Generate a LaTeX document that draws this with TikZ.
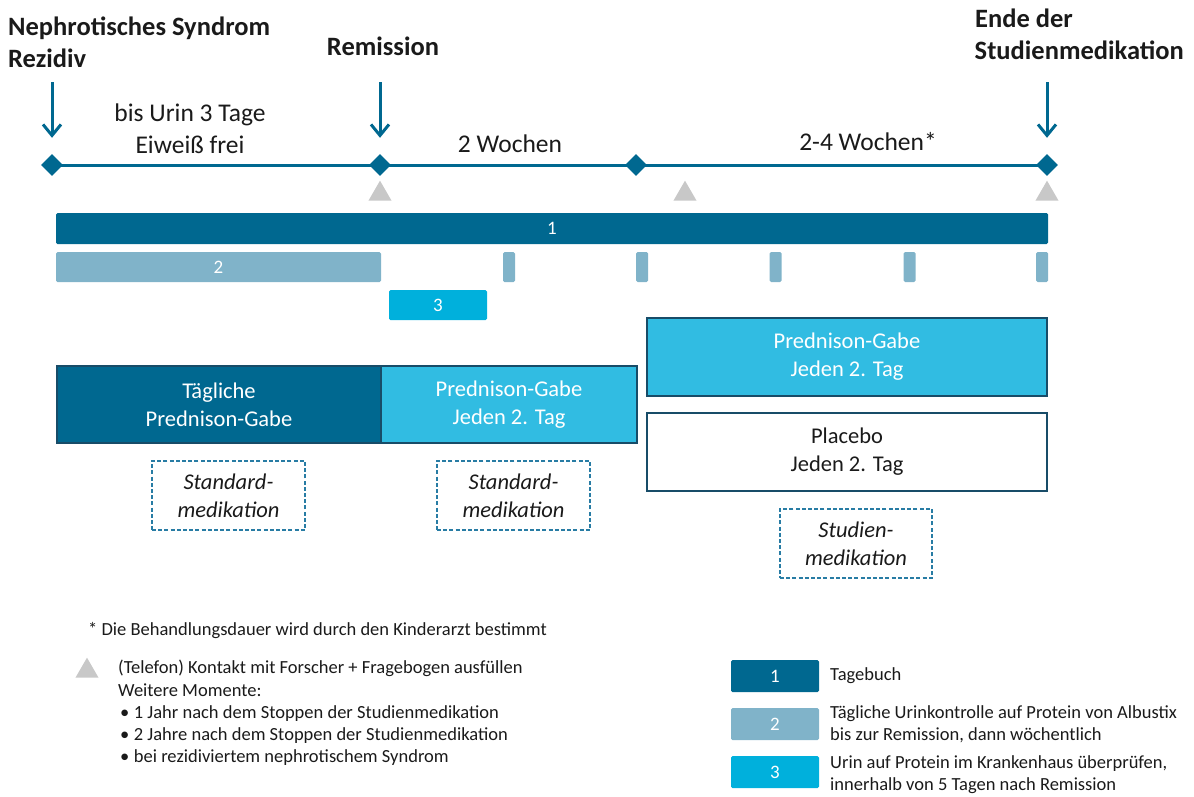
\documentclass[tikz,border=0pt]{standalone}
\usepackage{fontspec}
\setmainfont{Carlito}
\usetikzlibrary{shapes.geometric,arrows.meta}
\definecolor{dblue}{RGB}{0,104,144}
\definecolor{gblue}{RGB}{128,179,201}
\definecolor{cblue}{RGB}{0,176,220}
\definecolor{lcyan}{RGB}{49,188,226}
\definecolor{navy}{RGB}{24,76,104}
\definecolor{dashc}{RGB}{40,124,164}
\definecolor{tgray}{RGB}{200,200,200}
\definecolor{txt}{RGB}{26,26,26}
\newcommand\fsz[2]{\fontsize{#1}{#2}\selectfont}
\newcommand\bul{\hspace*{2pt}•\hspace{4.5pt}}
\tikzset{
  dia/.style={diamond,fill=dblue,inner sep=0pt,minimum size=22pt},
  tri/.style={isosceles triangle,isosceles triangle apex angle=60,shape border rotate=90,fill=tgray,inner sep=0pt,minimum width=23pt,minimum height=20pt},
  darr/.style={draw=dblue,line width=3pt,-{Straight Barb[length=11pt,width=18pt,line width=3pt]}},
  ttl/.style={font=\bfseries\fsz{26.5}{32},text=txt,inner sep=0pt},
  lbl/.style={font=\fsz{25.5}{32},text=txt,align=center,inner sep=0pt},
  bar/.style={inner sep=0pt,text=white,font=\fsz{19}{20},rounded corners=1.5pt},
  bigbox/.style={draw=navy,line width=2.6pt,inner sep=0pt,align=center,font=\fsz{22.5}{28}},
  dbox/.style={draw=dashc,dash pattern=on 4pt off 2.2pt,line width=1.2pt,inner sep=0pt,align=center,font=\itshape\fsz{22.5}{28},text=txt},
  leg/.style={font=\fsz{18.5}{22.3},text=txt,inner sep=0pt,align=left},
}
\begin{document}
\begin{tikzpicture}[x=1pt,y=-1pt]
\useasboundingbox (0,0) rectangle (1194,796);
% titles
\node[ttl,anchor=base west] (t1) at (8,35) {Nephrotisches Syndrom};
\node[ttl,anchor=base west] (t2) at (8,67) {Rezidiv};
\node[ttl,anchor=base] (t3) at (383,55) {Remission};
\node[ttl,anchor=base west] (t4) at (975,27) {Ende der};
\node[ttl,anchor=base east] (t5) at (1184,59) {Studienmedikation};
% timeline
\node[dia] (d1) at (52,165) {};
\node[dia] (d2) at (380,165) {};
\node[dia] (d3) at (636,165) {};
\node[dia] (d4) at (1047,165) {};
\draw[dblue,line width=3pt] (d1.center) -- (d2.center) -- (d3.center) -- (d4.center);
\coordinate (a1) at (52,82);
\coordinate (a2) at (380,82);
\coordinate (a4) at (1047,82);
\draw[darr,shorten >=16pt] (a1) -- (d1.north);
\draw[darr,shorten >=16pt] (a2) -- (d2.north);
\draw[darr,shorten >=16pt] (a4) -- (d4.north);
\node[lbl] (l1) at (190,129) {bis Urin 3 Tage\\Eiweiß frei};
\node[lbl] (l2) at (510,144) {2 Wochen};
\node[lbl] (l3) at (868,142) {2-4 Wochen*};
% triangles
\node[tri] (g1) at (380,194) {};
\node[tri] (g2) at (685,194) {};
\node[tri] (g3) at (1047,194) {};
% bars
\node[bar,fill=dblue,minimum width=992pt,minimum height=31pt] (b1) at (552,228.5) {1};
\node[bar,fill=gblue,minimum width=325pt,minimum height=30pt] (b2) at (218.5,267) {2};
\foreach \x [count=\i] in {509,642,775.5,909.5,1042}
  \node[bar,fill=gblue,minimum width=12pt,minimum height=30pt] (tk\i) at (\x,267) {};
\node[bar,fill=cblue,minimum width=98pt,minimum height=30pt] (b3) at (438,305) {3};
% medication boxes
\node[bigbox,fill=dblue,text=white,minimum width=324pt,minimum height=77pt] (m1) at (219,404.5) {Tägliche\\Prednison-Gabe};
\node[bigbox,fill=lcyan,text=white,minimum width=256pt,minimum height=77pt] (m2) at (509,404.5) {Prednison-Gabe\\Jeden 2. Tag};
\node[bigbox,fill=lcyan,text=white,minimum width=400pt,minimum height=78pt] (m3) at (847,357) {Prednison-Gabe\\Jeden 2. Tag};
\node[bigbox,fill=white,text=txt,minimum width=400pt,minimum height=78pt] (m4) at (847,452) {Placebo\\Jeden 2. Tag};
\node[dbox,minimum width=153pt,minimum height=69pt] (s1) at (228.5,495.5) {Standard-\\medikation};
\node[dbox,minimum width=153pt,minimum height=69pt] (s2) at (513.5,495.5) {Standard-\\medikation};
\node[dbox,minimum width=152pt,minimum height=69pt] (s3) at (856,543.5) {Studien-\\medikation};
% footnotes
\node[leg,anchor=base west] (f1) at (88,635) {* Die Behandlungsdauer wird durch den Kinderarzt bestimmt};
\node[tri] (gl) at (87,671) {};
\node[leg,anchor=north west] (f2) at (118,660) {(Telefon) Kontakt mit Forscher + Fragebogen ausfüllen\\Weitere Momente:\\\bul 1 Jahr nach dem Stoppen der Studienmedikation\\\bul 2 Jahre nach dem Stoppen der Studienmedikation\\\bul bei rezidiviertem nephrotischem Syndrom};
% legend
\node[bar,fill=dblue,minimum width=88pt,minimum height=32pt] (k1) at (775,676) {1};
\node[bar,fill=gblue,minimum width=88pt,minimum height=32pt] (k2) at (775,724) {2};
\node[bar,fill=cblue,minimum width=88pt,minimum height=32pt] (k3) at (775,772) {3};
\node[leg,anchor=west] (e1) at (830,676) {Tagebuch};
\node[leg,anchor=west] (e2) at (830,724.5) {Tägliche Urinkontrolle auf Protein von Albustix\\bis zur Remission, dann wöchentlich};
\node[leg,anchor=west] (e3) at (830,774.5) {Urin auf Protein im Krankenhaus überprüfen,\\innerhalb von 5 Tagen nach Remission};
\end{tikzpicture}
\end{document}
